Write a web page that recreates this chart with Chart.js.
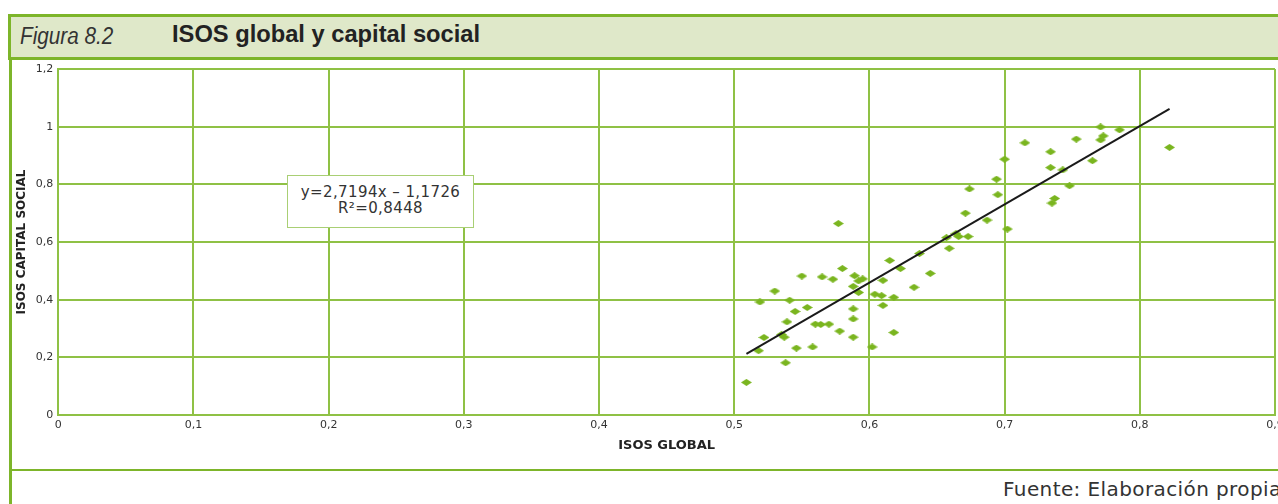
<!DOCTYPE html>
<html>
<head>
<meta charset="utf-8">
<script src="https://cdn.jsdelivr.net/npm/chart.js@4/dist/chart.umd.min.js"></script>
<style>
  html, body { margin:0; padding:0; width:1278px; height:504px; overflow:hidden; background:#fff; }
  #wrap { position:relative; width:1278px; height:504px; overflow:hidden; }
  #band { position:absolute; left:8px; top:14px; width:1280px; height:40px; background:#dfe8c9;
          border-top:3px solid #7db52a; border-bottom:3px solid #7db52a; border-left:3px solid #7db52a; }
  #fig { position:absolute; left:20px; top:23px; font-size:23px; color:#333; white-space:nowrap;
         font-family:"Liberation Sans", Arial, sans-serif; font-style:italic;
         transform:scaleX(0.9); transform-origin:0 0; }
  #ttl { position:absolute; left:172px; top:21px; font-size:23.7px; color:#222; white-space:nowrap; font-weight:bold;
         font-family:"Liberation Sans Narrow","Liberation Sans",sans-serif; }
  #lframe { position:absolute; left:9px; top:58px; width:3px; height:446px; background:#7db52a; }
  #bframe { position:absolute; left:9px; top:469px; width:1280px; height:2px; background:#7db52a; }
  #foot { position:absolute; left:1003px; top:477px; font-size:20px; color:#333; white-space:nowrap;
          letter-spacing:0.4px; font-family:"DejaVu Sans", sans-serif; }
  #note { position:absolute; left:287px; top:175px; width:187px; height:53px; background:#fff;
          border:1px solid #a9cf74; font-family:"DejaVu Sans", sans-serif; font-size:15px; color:#333;
          letter-spacing:0.4px; text-align:center; line-height:16px; box-sizing:border-box; padding-top:8px; z-index:3; }
  canvas { position:absolute; left:0; top:0; z-index:2; }
</style>
</head>
<body>
<div id="wrap">
  <div id="band"></div>
  <div id="fig">Figura 8.2</div>
  <div id="ttl">ISOS global y capital social</div>
  <div id="lframe"></div>
  <div id="bframe"></div>
  <div id="foot">Fuente: Elaboración propia</div>
  <div id="note">y=2,7194x – 1,1726<br>R²=0,8448</div>
  <canvas id="c" width="1282" height="504"></canvas>
</div>
<script>
// ---- data ----
const isosGlobal = [
  0.509, 0.518, 0.519, 0.522, 0.530, 0.535, 0.537, 0.538, 0.539, 0.541,
  0.545, 0.546, 0.550, 0.554, 0.558, 0.560, 0.564, 0.565, 0.570, 0.573,
  0.577, 0.578, 0.580, 0.588, 0.588, 0.588, 0.588, 0.589, 0.592, 0.592,
  0.595, 0.602, 0.604, 0.609, 0.610, 0.610, 0.615, 0.618, 0.618, 0.623,
  0.633, 0.637, 0.645, 0.657, 0.659, 0.664, 0.666, 0.673, 0.671, 0.674,
  0.687, 0.694, 0.695, 0.700, 0.702, 0.715, 0.734, 0.734, 0.735, 0.737,
  0.743, 0.748, 0.753, 0.765, 0.771, 0.773, 0.771, 0.785, 0.822
];
const isosCapitalSocial = [
  0.113, 0.223, 0.392, 0.269, 0.430, 0.279, 0.270, 0.181, 0.323, 0.398,
  0.359, 0.232, 0.482, 0.373, 0.236, 0.315, 0.314, 0.479, 0.315, 0.471,
  0.664, 0.291, 0.508, 0.446, 0.368, 0.333, 0.270, 0.483, 0.425, 0.465,
  0.472, 0.236, 0.419, 0.414, 0.380, 0.467, 0.536, 0.408, 0.286, 0.508,
  0.443, 0.560, 0.491, 0.615, 0.578, 0.629, 0.619, 0.619, 0.700, 0.784,
  0.676, 0.818, 0.764, 0.887, 0.645, 0.944, 0.913, 0.858, 0.735, 0.751,
  0.850, 0.795, 0.957, 0.882, 0.954, 0.968, 0.999, 0.989, 0.928
];
const trendX = [0.509, 0.822];
const trendY = [0.212, 1.062];
const xTickLabels = ['0','0,1','0,2','0,3','0,4','0,5','0,6','0,7','0,8','0,9'];
const yTickLabels = ['0','0,2','0,4','0,6','0,8','1','1,2'];

// diamond marker
const mk = document.createElement('canvas');
mk.width = 11; mk.height = 7;
const mctx = mk.getContext('2d');
mctx.fillStyle = '#7ab51f';
mctx.beginPath();
mctx.moveTo(5.5, 0); mctx.lineTo(11, 3.5); mctx.lineTo(5.5, 7); mctx.lineTo(0, 3.5);
mctx.closePath(); mctx.fill();

const grid = '#8fc145';
const tickFont = { family: '"DejaVu Sans", sans-serif', size: 11 };

const chart = new Chart(document.getElementById('c'), {
  type: 'scatter',
  data: {
    datasets: [
      {
        label: 'ISOS',
        data: isosGlobal.map((x, i) => ({ x: x, y: isosCapitalSocial[i] })),
        pointStyle: mk,
        pointRadius: 6,
        order: 2
      },
      {
        label: 'Tendencia',
        type: 'line',
        data: trendX.map((x, i) => ({ x: x, y: trendY[i] })),
        borderColor: '#1a1a1a',
        borderWidth: 2,
        pointRadius: 0,
        fill: false,
        order: 1
      }
    ]
  },
  options: {
    responsive: false,
    animation: false,
    devicePixelRatio: 1,
    layout: { padding: { left: 12, top: 69, right: 7, bottom: 48 } },
    plugins: { legend: { display: false }, tooltip: { enabled: false } },
    scales: {
      x: {
        type: 'linear', min: 0, max: 0.9,
        ticks: { stepSize: 0.1, color: '#333', font: tickFont, padding: 4,
                 callback: (v, i) => xTickLabels[Math.round(v * 10)] },
        grid: { color: grid, lineWidth: 2, drawTicks: false },
        border: { color: grid, width: 2 },
        title: { display: true, text: 'ISOS GLOBAL', color: '#222',
                 font: { family: '"DejaVu Sans", sans-serif', size: 13, weight: 'bold' },
                 padding: { top: 0, bottom: 3 } },
        afterFit: s => { s.height = 456 - 415; s.paddingLeft = 0; s.paddingRight = 0; }
      },
      y: {
        type: 'linear', min: 0, max: 1.2,
        ticks: { stepSize: 0.2, color: '#333', font: tickFont, padding: 5,
                 callback: (v) => yTickLabels[Math.round(v * 5)] },
        grid: { color: grid, lineWidth: 2, drawTicks: false },
        border: { color: grid, width: 2 },
        title: { display: true, text: 'ISOS CAPITAL SOCIAL', color: '#222',
                 font: { family: '"DejaVu Sans", sans-serif', size: 12, weight: 'bold' },
                 padding: { top: 3, bottom: 0 } },
        afterFit: s => { s.width = 58.3 - 12; s.paddingTop = 0; s.paddingBottom = 0; }
      }
    }
  }
});
</script>
</body>
</html>
